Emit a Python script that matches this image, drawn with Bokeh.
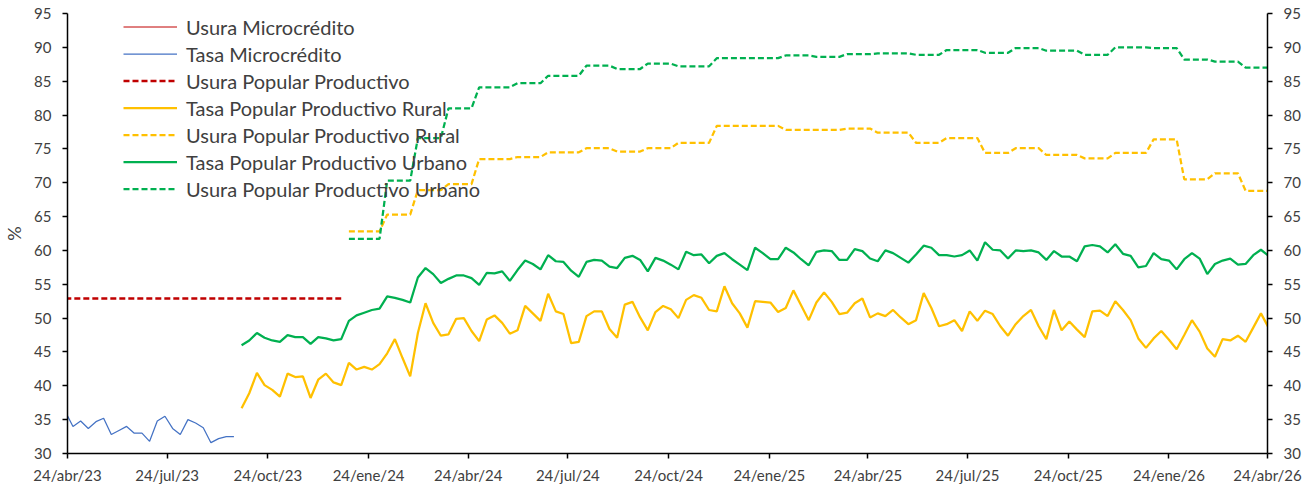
from datetime import datetime
import pandas as pd
from bokeh.plotting import figure
from bokeh.models import (Range1d, LinearAxis, FixedTicker, CustomJSTickFormatter,
                          Legend, LegendItem, ColumnDataSource)
from bokeh.embed import file_html
from bokeh.resources import INLINE

# ---------------- data ----------------
FIRST_WEEK = "2023-04-22"          # weekly observations
N_WEEKS = 158
MICRO_FIRST = 0                    # week index where each series starts
PP_USURA_FIRST = 0
TASA_PP_FIRST = 23
USURA_RU_FIRST = 37

TICK_DATES = ["2023-04-24", "2023-07-24", "2023-10-24", "2024-01-24", "2024-04-24",
              "2024-07-24", "2024-10-24", "2025-01-24", "2025-04-24", "2025-07-24",
              "2025-10-24", "2026-01-24", "2026-04-24"]
TICK_LABELS = ["24/abr/23", "24/jul/23", "24/oct/23", "24/ene/24", "24/abr/24",
               "24/jul/24", "24/oct/24", "24/ene/25", "24/abr/25", "24/jul/25",
               "24/oct/25", "24/ene/26", "24/abr/26"]
Y_TICKS = [30, 35, 40, 45, 50, 55, 60, 65, 70, 75, 80, 85, 90, 95]

usura_micro = [float("nan")]   # not visible in the chart (legend entry only)

tasa_micro = [36.2, 34.0, 34.8, 33.7, 34.7, 35.2, 32.8, 33.4, 34.0, 33.0, 33.0, 31.8,
              34.8, 35.5, 33.7, 32.8, 35.0, 34.5, 33.8, 31.6, 32.2, 32.5, 32.5]

usura_pp = [52.9, 52.9, 52.9, 52.9, 52.9, 52.9, 52.9, 52.9, 52.9, 52.9, 52.9, 52.9,
            52.9, 52.9, 52.9, 52.9, 52.9, 52.9, 52.9, 52.9, 52.9, 52.9, 52.9, 52.9,
            52.9, 52.9, 52.9, 52.9, 52.9, 52.9, 52.9, 52.9, 52.9, 52.9, 52.9, 52.9, 52.9]

tasa_rural = [36.7, 38.9, 41.9, 40.1, 39.4, 38.4, 41.8, 41.3, 41.4, 38.2, 40.9, 41.8, 40.5, 40.1,
              43.4, 42.4, 42.8, 42.4, 43.2, 44.8, 46.9, 44.1, 41.4, 47.8, 52.2, 49.3, 47.4, 47.6,
              49.9, 50.0, 48.1, 46.6,
              49.8, 50.4, 49.3, 47.7, 48.2, 51.8, 50.7, 49.6, 53.6, 51.0, 50.6, 46.3, 46.5, 50.3,
              51.0, 51.0, 48.4, 47.1, 52.0, 52.4, 50.1, 48.2, 50.9, 51.8, 51.3, 50.0, 52.7, 53.4,
              53.0, 51.2, 51.0,
              54.7, 52.2, 50.7, 48.6, 52.5, 52.4, 52.3, 50.9, 51.5, 54.1, 51.9, 49.7, 52.3, 53.8,
              52.4, 50.6, 50.8, 52.2, 52.9, 50.1, 50.7, 50.3, 51.2, 50.1, 49.1, 49.7, 53.7, 51.5,
              48.8, 49.1, 49.7,
              48.1, 51.0, 49.6, 51.1, 50.6, 48.8, 47.4, 49.1, 50.3, 51.2, 48.8, 46.9, 51.2, 48.2,
              49.5, 48.3, 47.2, 51.0, 51.1, 50.3, 52.5, 51.2, 49.7, 47.0, 45.6, 47.0, 48.1, 46.8,
              45.4, 47.5, 49.7, 48.0, 45.5, 44.3, 46.9, 46.7, 47.4, 46.5, 48.6, 50.7, 48.6]

usura_rural = [62.8, 62.8, 62.8, 62.8, 62.8, 65.3, 65.3, 65.3, 65.3, 68.9, 68.9, 68.9, 68.9,
               69.8, 69.8, 69.8, 69.8, 73.5, 73.5, 73.5, 73.5, 73.5, 73.8, 73.8, 73.8, 73.8,
               74.5, 74.5, 74.5, 74.5, 74.5, 75.1, 75.1, 75.1, 75.1, 74.6, 74.6, 74.6, 74.6,
               75.1, 75.1, 75.1, 75.1, 75.9, 75.9, 75.9, 75.9, 75.9,
               78.4, 78.4, 78.4, 78.4, 78.4, 78.4, 78.4, 78.4, 78.4,
               77.8, 77.8, 77.8, 77.8, 77.8, 77.8, 77.8, 77.8, 78.0, 78.0, 78.0, 78.0,
               77.4, 77.4, 77.4, 77.4, 77.4, 75.9, 75.9, 75.9, 75.9, 76.6, 76.6, 76.6, 76.6, 76.6,
               74.4, 74.4, 74.4, 74.4, 75.1, 75.1, 75.1, 75.1, 74.1, 74.1, 74.1, 74.1, 74.1,
               73.6, 73.6, 73.6, 73.6, 74.4, 74.4, 74.4, 74.4, 74.4, 76.4, 76.4, 76.4, 76.4,
               70.5, 70.5, 70.5, 70.5, 71.4, 71.4, 71.4, 71.4, 68.8, 68.8, 68.8, 68.8]

tasa_urbano = [46.0, 46.7, 47.8, 47.1, 46.7, 46.5, 47.5, 47.2, 47.2, 46.2, 47.2, 47.0, 46.7, 46.9,
               49.6, 50.4, 50.8, 51.2, 51.4, 53.2, 53.0, 52.7, 52.3, 56.0, 57.4, 56.5, 55.2, 55.8,
               56.3, 56.3, 55.9, 54.9,
               56.7, 56.6, 56.9, 55.5, 57.1, 58.5, 58.0, 57.2, 59.3, 58.4, 58.3, 57.0, 56.1, 58.3,
               58.6, 58.5, 57.6, 57.4, 58.9, 59.2, 58.6, 56.9, 58.9, 58.5, 57.9, 57.2, 59.8, 59.3,
               59.4, 58.1, 59.2,
               59.6, 58.7, 57.9, 57.1, 60.4, 59.6, 58.7, 58.7, 60.4, 59.7, 58.7, 57.8, 59.8, 60.0,
               59.9, 58.6, 58.6, 60.2, 59.9, 58.8, 58.4, 60.0, 59.6, 58.9, 58.2, 59.4, 60.7, 60.4,
               59.3, 59.3, 59.1,
               59.3, 60.0, 58.5, 61.2, 60.1, 60.0, 58.8, 60.0, 59.9, 60.0, 59.7, 58.6, 59.9, 59.1,
               59.1, 58.4, 60.6, 60.8, 60.6, 59.7, 60.9, 59.5, 59.2, 57.5, 57.7, 59.6, 58.7, 58.5,
               57.2, 58.7, 59.6, 58.8, 56.5, 58.0, 58.5, 58.8, 57.9, 58.0, 59.3, 60.1, 59.2]

usura_urbano = [61.7, 61.7, 61.7, 61.7, 61.7, 70.3, 70.3, 70.3, 70.3, 76.6, 76.6, 76.6, 76.6,
                81.0, 81.0, 81.0, 81.0, 84.1, 84.1, 84.1, 84.1, 84.1, 84.7, 84.7, 84.7, 84.7,
                85.8, 85.8, 85.8, 85.8, 85.8, 87.3, 87.3, 87.3, 87.3, 86.8, 86.8, 86.8, 86.8,
                87.6, 87.6, 87.6, 87.6, 87.2, 87.2, 87.2, 87.2, 87.2,
                88.4, 88.4, 88.4, 88.4, 88.4, 88.4, 88.4, 88.4, 88.4,
                88.8, 88.8, 88.8, 88.8, 88.6, 88.6, 88.6, 88.6, 89.0, 89.0, 89.0, 89.0,
                89.1, 89.1, 89.1, 89.1, 89.1, 88.9, 88.9, 88.9, 88.9, 89.6, 89.6, 89.6, 89.6, 89.6,
                89.2, 89.2, 89.2, 89.2, 89.9, 89.9, 89.9, 89.9, 89.5, 89.5, 89.5, 89.5, 89.5,
                88.9, 88.9, 88.9, 88.9, 90.0, 90.0, 90.0, 90.0, 90.0, 89.9, 89.9, 89.9, 89.9,
                88.2, 88.2, 88.2, 88.2, 87.9, 87.9, 87.9, 87.9, 87.0, 87.0, 87.0, 87.0]

# ---------------- figure ----------------
weeks = pd.date_range(FIRST_WEEK, periods=N_WEEKS, freq="7D")


def src(first, values):
    d = weeks[first:first + len(values)]
    return ColumnDataSource(dict(x=list(d.to_pydatetime()), y=values))


FONT = "Lato"
TXT = "#404040"

p = figure(x_axis_type="datetime", frame_width=1200, frame_height=440,
           min_border_left=59, min_border_right=38, min_border_top=13, min_border_bottom=35,
           x_range=Range1d(datetime(2023, 4, 24), datetime(2026, 4, 24)),
           y_range=Range1d(30, 95), output_backend="svg", toolbar_location=None)
p.outline_line_color = None
p.xgrid.visible = False
p.ygrid.visible = False

GREEN = "#00B050"
GOLD = "#FFC000"
RED = "#C00000"
BLUE = "#4472C4"
DASH = "6 3"

r_um = p.line("x", "y", source=src(MICRO_FIRST, usura_micro), line_color=RED, line_width=1)
r_tm = p.line("x", "y", source=src(MICRO_FIRST, tasa_micro), line_color=BLUE, line_width=1.25)
r_upp = p.line("x", "y", source=src(PP_USURA_FIRST, usura_pp), line_color=RED, line_width=2.5,
               line_dash=DASH)
r_tr = p.line("x", "y", source=src(TASA_PP_FIRST, tasa_rural), line_color=GOLD, line_width=2.25)
r_ur = p.line("x", "y", source=src(USURA_RU_FIRST, usura_rural), line_color=GOLD, line_width=2.25,
              line_dash=DASH)
r_tu = p.line("x", "y", source=src(TASA_PP_FIRST, tasa_urbano), line_color=GREEN, line_width=2.25)
r_uu = p.line("x", "y", source=src(USURA_RU_FIRST, usura_urbano), line_color=GREEN, line_width=2.25,
              line_dash=DASH)

# x axis
tick_ms = [pd.Timestamp(d).value / 1e6 for d in TICK_DATES]
xa = p.xaxis[0]
xa.ticker = FixedTicker(ticks=tick_ms)
xa.formatter = CustomJSTickFormatter(args=dict(tvals=tick_ms, tlabels=TICK_LABELS), code="""
let best = 0, bd = Infinity;
for (let i = 0; i < tvals.length; i++) {
  const d = Math.abs(tvals[i] - tick);
  if (d < bd) { bd = d; best = i; }
}
return bd < 86400000 ? tlabels[best] : "";
""")

# y axes
ya = p.yaxis[0]
ya.ticker = FixedTicker(ticks=Y_TICKS)
ya.axis_label = "%"
ya.axis_label_standoff = 6
ya.axis_label_text_font = FONT
ya.axis_label_text_font_size = "18px"
ya.axis_label_text_font_style = "normal"
ya.axis_label_text_color = TXT

ya2 = LinearAxis(ticker=FixedTicker(ticks=Y_TICKS))
p.add_layout(ya2, "right")

for ax in (xa, ya, ya2):
    ax.axis_line_color = "black"
    ax.axis_line_width = 1.5
    ax.major_tick_line_color = "black"
    ax.major_tick_line_width = 1.5
    ax.major_tick_out = 5
    ax.major_tick_in = 0
    ax.minor_tick_out = 0
    ax.minor_tick_in = 0
    ax.major_label_text_font = FONT
    ax.major_label_text_font_size = "15px"
    ax.major_label_text_color = TXT
    ax.major_label_standoff = 11
xa.major_label_standoff = 7

LEGEND_ROW = 27
legend = Legend(items=[
    LegendItem(label="Usura Microcrédito", renderers=[r_um]),
    LegendItem(label="Tasa Microcrédito", renderers=[r_tm]),
    LegendItem(label="Usura Popular Productivo", renderers=[r_upp]),
    LegendItem(label="Tasa Popular Productivo Rural", renderers=[r_tr]),
    LegendItem(label="Usura Popular Productivo Rural", renderers=[r_ur]),
    LegendItem(label="Tasa Popular Productivo Urbano", renderers=[r_tu]),
    LegendItem(label="Usura Popular Productivo Urbano", renderers=[r_uu]),
], location=(56, 440 - 7 * LEGEND_ROW))
legend.margin = 0
legend.padding = 0
legend.spacing = 0
legend.glyph_width = 54
legend.glyph_height = LEGEND_ROW
legend.label_height = LEGEND_ROW
legend.label_standoff = 9
legend.label_text_font = FONT
legend.label_text_font_size = "20px"
legend.label_text_color = TXT
legend.background_fill_alpha = 0
legend.border_line_alpha = 0
p.add_layout(legend, "center")

open("out.html", "w").write(file_html(p, INLINE))
